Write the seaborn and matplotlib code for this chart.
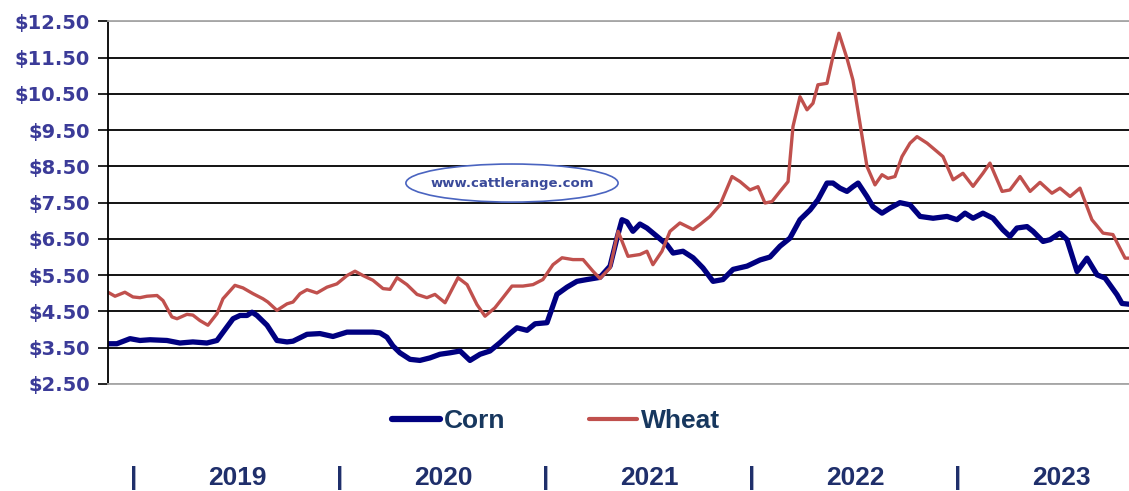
import numpy as np
import pandas as pd
import matplotlib
matplotlib.use('Agg')
import matplotlib.pyplot as plt
import seaborn as sns
from matplotlib.patches import Ellipse

# time axis in decimal years, prices in $/bu
corn_t = [2018.874, 2018.917, 2018.981, 2019.029, 2019.078, 2019.160, 2019.223, 2019.286,
          2019.354, 2019.403, 2019.451, 2019.481, 2019.515, 2019.549, 2019.573, 2019.597,
          2019.646, 2019.694, 2019.743, 2019.772, 2019.840, 2019.903, 2019.966, 2020.034,
          2020.097, 2020.160, 2020.194, 2020.228, 2020.257, 2020.291, 2020.340, 2020.388,
          2020.437, 2020.485, 2020.534, 2020.583, 2020.631, 2020.680, 2020.728, 2020.777,
          2020.825, 2020.859, 2020.908, 2020.947, 2021.005, 2021.053, 2021.102, 2021.150,
          2021.199, 2021.262, 2021.311, 2021.345, 2021.369, 2021.393, 2021.422, 2021.456,
          2021.490, 2021.539, 2021.587, 2021.617, 2021.665, 2021.714, 2021.762, 2021.811,
          2021.859, 2021.908, 2021.976, 2022.039, 2022.087, 2022.136, 2022.184, 2022.233,
          2022.282, 2022.320, 2022.364, 2022.393, 2022.427, 2022.461, 2022.490, 2022.515,
          2022.558, 2022.587, 2022.631, 2022.670, 2022.718, 2022.767, 2022.816, 2022.879,
          2022.947, 2022.995, 2023.034, 2023.073, 2023.121, 2023.170, 2023.218, 2023.252,
          2023.286, 2023.335, 2023.364, 2023.413, 2023.447, 2023.495, 2023.529, 2023.578,
          2023.626, 2023.675, 2023.714, 2023.772, 2023.796, 2023.830]
corn = [3.61, 3.61, 3.75, 3.70, 3.72, 3.70, 3.63, 3.66,
        3.63, 3.70, 4.07, 4.30, 4.39, 4.39, 4.48, 4.39,
        4.12, 3.70, 3.66, 3.68, 3.87, 3.89, 3.81, 3.93,
        3.93, 3.93, 3.91, 3.79, 3.55, 3.36, 3.18, 3.15,
        3.22, 3.32, 3.36, 3.41, 3.15, 3.32, 3.41, 3.64,
        3.89, 4.05, 3.98, 4.16, 4.19, 4.97, 5.17, 5.33,
        5.38, 5.44, 5.75, 6.53, 7.03, 6.97, 6.71, 6.91,
        6.80, 6.57, 6.34, 6.11, 6.16, 5.98, 5.70, 5.33,
        5.38, 5.66, 5.75, 5.92, 6.00, 6.30, 6.52, 7.03,
        7.30, 7.58, 8.04, 8.04, 7.90, 7.81, 7.94, 8.04,
        7.67, 7.39, 7.21, 7.35, 7.50, 7.44, 7.12, 7.07,
        7.12, 7.03, 7.21, 7.07, 7.21, 7.07, 6.75, 6.57,
        6.80, 6.84, 6.71, 6.43, 6.48, 6.66, 6.48, 5.60,
        5.97, 5.51, 5.42, 4.96, 4.72, 4.70]

wheat_t = [2018.874, 2018.908, 2018.956, 2018.995, 2019.029, 2019.063, 2019.112, 2019.141,
           2019.184, 2019.209, 2019.257, 2019.286, 2019.320, 2019.359, 2019.403, 2019.432,
           2019.490, 2019.529, 2019.578, 2019.626, 2019.650, 2019.694, 2019.743, 2019.772,
           2019.806, 2019.840, 2019.888, 2019.937, 2019.985, 2020.034, 2020.073, 2020.112,
           2020.160, 2020.209, 2020.243, 2020.277, 2020.325, 2020.374, 2020.422, 2020.461,
           2020.510, 2020.573, 2020.617, 2020.665, 2020.704, 2020.752, 2020.791, 2020.835,
           2020.888, 2020.937, 2020.985, 2021.034, 2021.078, 2021.131, 2021.180, 2021.228,
           2021.262, 2021.311, 2021.350, 2021.398, 2021.456, 2021.490, 2021.519, 2021.563,
           2021.602, 2021.650, 2021.714, 2021.748, 2021.796, 2021.845, 2021.903, 2021.942,
           2021.990, 2022.029, 2022.063, 2022.097, 2022.136, 2022.175, 2022.199, 2022.233,
           2022.267, 2022.296, 2022.320, 2022.364, 2022.393, 2022.422, 2022.461, 2022.490,
           2022.524, 2022.558, 2022.597, 2022.631, 2022.660, 2022.694, 2022.728, 2022.767,
           2022.801, 2022.850, 2022.898, 2022.927, 2022.976, 2023.024, 2023.073, 2023.121,
           2023.155, 2023.214, 2023.252, 2023.301, 2023.350, 2023.398, 2023.456, 2023.495,
           2023.544, 2023.592, 2023.650, 2023.704, 2023.752, 2023.811, 2023.830]
wheat = [5.03, 4.92, 5.03, 4.90, 4.88, 4.92, 4.94, 4.80,
         4.35, 4.30, 4.42, 4.40, 4.25, 4.12, 4.44, 4.85,
         5.22, 5.15, 4.99, 4.85, 4.76, 4.53, 4.71, 4.76,
         4.99, 5.10, 5.01, 5.17, 5.26, 5.49, 5.61, 5.49,
         5.36, 5.13, 5.11, 5.43, 5.24, 4.97, 4.88, 4.97,
         4.74, 5.43, 5.24, 4.69, 4.37, 4.60, 4.88, 5.20,
         5.20, 5.24, 5.38, 5.79, 5.98, 5.93, 5.93, 5.61,
         5.41, 5.70, 6.71, 6.02, 6.07, 6.16, 5.79, 6.16,
         6.71, 6.94, 6.76, 6.90, 7.12, 7.44, 8.22, 8.08,
         7.85, 7.94, 7.49, 7.53, 7.81, 8.08, 9.60, 10.42,
         10.06, 10.24, 10.75, 10.79, 11.53, 12.17, 11.48, 10.88,
         9.69, 8.50, 7.99, 8.27, 8.17, 8.22, 8.77, 9.14,
         9.32, 9.14, 8.91, 8.77, 8.13, 8.31, 7.95, 8.31,
         8.59, 7.81, 7.85, 8.22, 7.81, 8.06, 7.76, 7.90,
         7.67, 7.90, 7.03, 6.66, 6.62, 5.97, 5.97]

years = ['2019', '2020', '2021', '2022', '2023']
price_ticks = np.arange(2.5, 12.51, 1.0)

df = pd.concat([
    pd.DataFrame({'t': corn_t, 'price': corn, 'grain': 'Corn'}),
    pd.DataFrame({'t': wheat_t, 'price': wheat, 'grain': 'Wheat'}),
])

sns.set_style('white')
plt.rcParams['font.family'] = ['DejaVu Sans']

fig = plt.figure(figsize=(11.29, 4.91), dpi=100)
ax = fig.add_axes([108 / 1129, 1 - 384 / 491, 1 - 108 / 1129, (384 - 21.3) / 491])

palette = {'Corn': '#000080', 'Wheat': '#c0504d'}
sns.lineplot(data=df, x='t', y='price', hue='grain', palette=palette,
             sort=False, estimator=None, ax=ax, legend=False)
ax.lines[0].set_linewidth(3.8)
ax.lines[1].set_linewidth(2.4)

ax.set_xlim(2018.874, 2023.830)
ax.set_ylim(2.5, 12.5)
ax.set_xlabel('')
ax.set_ylabel('')
ax.set_xticks([])
ax.set_yticks(price_ticks)
ax.set_yticklabels([f'${v:.2f}' for v in price_ticks], fontsize=14,
                   fontweight='bold', color='#3b3b98')
ax.tick_params(axis='y', direction='out', length=7, width=1.2, color='black', pad=6, left=True)

ax.yaxis.grid(True, color='black', linewidth=1.3)
ax.set_axisbelow(True)
gl = ax.get_ygridlines()
gl[0].set_color('#a6a6a6')
gl[-1].set_color('#a6a6a6')
for side in ['top', 'bottom']:
    ax.spines[side].set_color('#a6a6a6')
    ax.spines[side].set_linewidth(1.3)
ax.spines['right'].set_visible(False)
ax.spines['left'].set_color('black')
ax.spines['left'].set_linewidth(1.3)

# watermark
ax.add_patch(Ellipse((2020.835, 8.04), width=1.03, height=1.05, facecolor='white',
                     edgecolor='#4a64c0', linewidth=1.2, zorder=3))
ax.text(2020.835, 8.04, 'www.cattlerange.com', ha='center', va='center', fontsize=9.5,
        fontweight='bold', color='#3a4a9a', zorder=4)

# legend
from matplotlib.lines import Line2D
handles = [Line2D([], [], color=palette['Corn'], linewidth=4.5),
           Line2D([], [], color=palette['Wheat'], linewidth=3)]
fig.legend(handles, ['Corn', 'Wheat'], loc='center', bbox_to_anchor=(556 / 1129, 1 - 421 / 491),
           ncol=2, frameon=False, handlelength=1.8, handletextpad=0.15, columnspacing=3.2,
           prop={'family': ['Liberation Sans', 'DejaVu Sans'], 'weight': 'bold', 'size': 19},
           labelcolor='#17375e')

# year labels under the chart
trans = matplotlib.transforms.blended_transform_factory(ax.transData, fig.transFigure)
for i, y in enumerate(years):
    yr = int(y)
    ax.text(yr, 1 - 478 / 491, '|', transform=trans, ha='center', va='center',
            fontsize=19, fontweight='bold', color='#1f2f6b',
            family=['Liberation Sans', 'DejaVu Sans'])
    ax.text(yr + 0.5, 1 - 478 / 491, y, transform=trans, ha='center', va='center',
            fontsize=19, fontweight='bold', color='#1f2f6b',
            family=['Liberation Sans', 'DejaVu Sans'])

fig.savefig('out.png', dpi=100)
